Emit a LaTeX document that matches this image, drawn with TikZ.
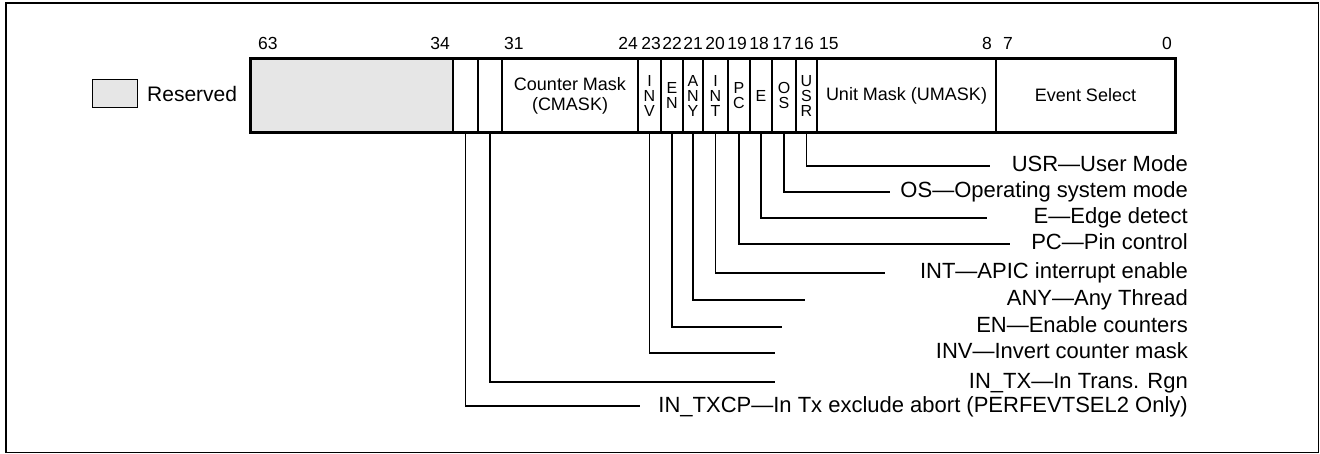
\documentclass[tikz,border=0pt]{standalone}
\usepackage{fontspec}
\setmainfont{Liberation Sans}
\definecolor{resgray}{HTML}{E6E6E6}
\newcommand{\fsz}[2]{\fontsize{#1}{#2}\selectfont}
\begin{document}
\begin{tikzpicture}[x=1pt,y=-1pt,
  cell/.style={draw, line width=1.1pt, minimum height=73pt, inner sep=0pt, align=center, font=\fsz{18}{20}},
  vcell/.style={cell, font=\fsz{16}{15}},
  num/.style={font=\fsz{17.5}{19}, inner sep=0pt},
  leader/.style={line width=1.2pt},
  lab/.style={font=\fsz{22}{24}, inner sep=0pt, anchor=base east},
  frame/.style={line width=1.5pt}]
\useasboundingbox (0,0) rectangle (1320,454);
\draw[frame] (6,3) rectangle (1318.5,452.5);
% legend
\node[draw, line width=1pt, fill=resgray, minimum width=45pt, minimum height=28pt, inner sep=0pt] (legbox) at (114.5,94) {};
\node[font=\fsz{21}{24}, inner sep=0pt, anchor=base west] (legtxt) at (147,101.5) {Reserved};
% register cells
\node[cell, fill=resgray, minimum width=202pt] (res) at (352,95.5) {};
\node[cell, minimum width=25pt] (b33) at (465.5,95.5) {};
\node[cell, minimum width=24pt] (b32) at (490,95.5) {};
\node[cell, minimum width=136pt] (cmask) at (570,95.5) {Counter Mask\\(CMASK)};
\node[vcell, minimum width=23pt] (inv) at (649.5,95.5) {I\\N\\V};
\node[vcell, minimum width=22pt] (en) at (672,95.5) {E\\N};
\node[vcell, minimum width=20pt] (any) at (693,95.5) {A\\N\\Y};
\node[vcell, minimum width=25pt] (int) at (715.5,95.5) {I\\N\\T};
\node[vcell, minimum width=22pt] (pc) at (739,95.5) {P\\C};
\node[vcell, minimum width=22pt] (e) at (761,95.5) {E};
\node[vcell, minimum width=24pt] (os) at (784,95.5) {O\\S};
\node[vcell, minimum width=21pt] (usr) at (806.5,95.5) {U\\S\\R};
\node[cell, minimum width=179pt] (umask) at (906.5,95.5) {Unit Mask (UMASK)};
\node[cell, minimum width=179pt] (evt) at (1085.5,95.5) {Event Select};
\draw[line width=2.5pt] (res.north west) rectangle (evt.south east);
% bit numbers
\node[num, anchor=base west] (n63) at (258,50) {63};
\node[num, anchor=base east] (n34) at (450,50) {34};
\node[num, anchor=base west] (n31) at (504,50) {31};
\node[num, anchor=base east] (n24) at (638,50) {24};
\node[num, anchor=base] (n23) at (651,50) {23};
\node[num, anchor=base] (n22) at (672,50) {22};
\node[num, anchor=base] (n21) at (693,50) {21};
\node[num, anchor=base] (n20) at (715,50) {20};
\node[num, anchor=base] (n19) at (737,50) {19};
\node[num, anchor=base] (n18) at (759,50) {18};
\node[num, anchor=base] (n17) at (782,50) {17};
\node[num, anchor=base] (n16) at (804,50) {16};
\node[num, anchor=base west] (n15) at (819,50) {15};
\node[num, anchor=base east] (n8) at (992,50) {8};
\node[num, anchor=base west] (n7) at (1003,50) {7};
\node[num, anchor=base east] (n0) at (1172,50) {0};
% labels
\node[lab] (lusr) at (1188,172) {USR—User Mode};
\node[lab] (los) at (1188,198) {OS—Operating system mode};
\node[lab] (le) at (1188,224) {E—Edge detect};
\node[lab] (lpc) at (1188,250) {PC—Pin control};
\node[lab] (lint) at (1188,279) {INT—APIC interrupt enable};
\node[lab] (lany) at (1188,306) {ANY—Any Thread};
\node[lab] (len) at (1188,333) {EN—Enable counters};
\node[lab] (linv) at (1188,359) {INV—Invert counter mask};
\node[lab] (lintx) at (1188,388) {IN\_TX—In Trans. Rgn};
\node[lab] (ltxcp) at (1188,412) {IN\_TXCP—In Tx exclude abort (PERFEVTSEL2 Only)};
% leader end points
\coordinate (eusr) at (990,166);
\coordinate (eos) at (890,192);
\coordinate (ee) at (987,218);
\coordinate (epc) at (1010,244);
\coordinate (eint) at (885,273);
\coordinate (eany) at (805,300);
\coordinate (een) at (782,327);
\coordinate (einv) at (775,353);
\coordinate (eintx) at (775,382);
\coordinate (etxcp) at (640,406);
\draw[leader] (usr.south) |- (eusr);
\draw[leader] (os.south) |- (eos);
\draw[leader] (e.south) |- (ee);
\draw[leader] (pc.south) |- (epc);
\draw[leader] (int.south) |- (eint);
\draw[leader] (any.south) |- (eany);
\draw[leader] (en.south) |- (een);
\draw[leader] (inv.south) |- (einv);
\draw[leader] (b32.south) |- (eintx);
\draw[leader] (b33.south) |- (etxcp);
\end{tikzpicture}
\end{document}
